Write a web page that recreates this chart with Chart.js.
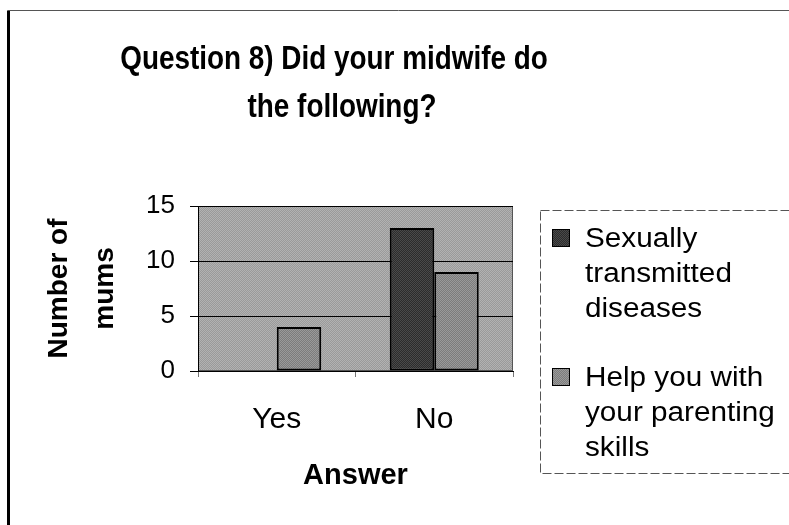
<!DOCTYPE html>
<html>
<head>
<meta charset="utf-8">
<script src="https://cdn.jsdelivr.net/npm/chart.js@4.4.1/dist/chart.umd.min.js"></script>
<style>
  html, body { margin: 0; padding: 0; background: #fff; }
  #wrap { position: relative; width: 789px; height: 525px; overflow: hidden; }
</style>
</head>
<body>
<div id="wrap"><canvas id="chart" width="789" height="525"></canvas></div>
<script>
// chart data
const titleLines = ['Question 8) Did your midwife do', 'the following?'];
const categories = ['Yes', 'No'];
const stdLabel = ['Sexually', 'transmitted', 'diseases'];
const parentingLabel = ['Help you with', 'your parenting', 'skills'];
const stdValues = [0, 13];
const parentingValues = [4, 9];
const yMin = 0, yMax = 15, yStep = 5;
const xTitle = 'Answer';
const yTitle = ['Number of', 'mums'];

// small halftone-like fill, like the scanned excel chart
function makePattern(a, b) {
  const c = document.createElement('canvas');
  c.width = 2; c.height = 2;
  const g = c.getContext('2d');
  g.fillStyle = a; g.fillRect(0, 0, 2, 2);
  g.fillStyle = b; g.fillRect(0, 0, 1, 1); g.fillRect(1, 1, 1, 1);
  return g.createPattern(c, 'repeat');
}
const bgFill = makePattern('#9a9a9a', '#b2b2b2');
const darkFill = makePattern('#2c2c2c', '#4a4a4a');
const lightFill = makePattern('#7c7c7c', '#9a9a9a');

// text squeezed or stretched sideways (the scan is not 1:1)
function drawText(ctx, text, x, y, sx) {
  ctx.save();
  ctx.translate(x, y);
  ctx.scale(sx, 1);
  ctx.fillText(text, 0, 0);
  ctx.restore();
}

// frame, plot background, title and legend drawn around the chart
const decor = {
  id: 'decor',
  beforeDraw(chart) {
    const ctx = chart.ctx;
    const a = chart.chartArea;
    ctx.save();
    ctx.fillStyle = '#fff';
    ctx.fillRect(0, 0, chart.width, chart.height);
    // outer frame
    ctx.strokeStyle = '#000';
    ctx.lineWidth = 3;
    ctx.beginPath();
    ctx.moveTo(8.5, 525); ctx.lineTo(8.5, 10.5);
    ctx.stroke();
    ctx.strokeStyle = '#555';
    ctx.lineWidth = 1;
    ctx.beginPath();
    ctx.moveTo(8, 10.5); ctx.lineTo(789, 10.5);
    ctx.stroke();
    // plot area
    ctx.fillStyle = bgFill;
    ctx.fillRect(a.left, a.top, a.right - a.left, a.bottom - a.top);
    ctx.strokeStyle = '#555';
    ctx.strokeRect(a.left + 0.5, a.top + 0.5, a.right - a.left - 1, a.bottom - a.top - 1);
    ctx.restore();
  },
  afterDraw(chart) {
    const ctx = chart.ctx;
    ctx.save();
    // title
    ctx.fillStyle = '#000';
    ctx.textAlign = 'center';
    ctx.textBaseline = 'alphabetic';
    ctx.font = 'bold 34px Arial, "Liberation Sans", sans-serif';
    drawText(ctx, titleLines[0], 334, 69, 0.82);
    drawText(ctx, titleLines[1], 342, 117, 0.82);
    // legend box
    ctx.strokeStyle = '#555';
    ctx.lineWidth = 1;
    ctx.setLineDash([9, 3]);
    ctx.strokeRect(540.5, 210.5, 270, 263);
    ctx.setLineDash([]);
    const entries = [
      { fill: darkFill, lines: stdLabel, top: 229 },
      { fill: lightFill, lines: parentingLabel, top: 368 }
    ];
    ctx.textAlign = 'left';
    ctx.font = '27px Arial, "Liberation Sans", sans-serif';
    entries.forEach(e => {
      ctx.fillStyle = e.fill;
      ctx.fillRect(552, e.top, 18, 18);
      ctx.strokeStyle = '#000';
      ctx.strokeRect(552.5, e.top + 0.5, 17, 17);
      ctx.fillStyle = '#000';
      e.lines.forEach((t, i) => drawText(ctx, t, 585, e.top + 18 + i * 35, 1.1));
    });
    ctx.restore();
  }
};

const ctx = document.getElementById('chart').getContext('2d');
new Chart(ctx, {
  type: 'bar',
  data: {
    labels: categories,
    datasets: [
      {
        label: stdLabel.join(' '),
        data: stdValues,
        backgroundColor: darkFill,
        borderColor: '#000',
        borderWidth: 2,
        borderSkipped: false,
        categoryPercentage: 0.565,
        barPercentage: 1
      },
      {
        label: parentingLabel.join(' '),
        data: parentingValues,
        backgroundColor: lightFill,
        borderColor: '#000',
        borderWidth: 2,
        borderSkipped: false,
        categoryPercentage: 0.565,
        barPercentage: 1
      }
    ]
  },
  options: {
    responsive: false,
    animation: false,
    devicePixelRatio: 1,
    layout: { padding: { top: 206, right: 276, bottom: 0, left: 0 } },
    plugins: {
      legend: { display: false },
      title: { display: false },
      tooltip: { enabled: false }
    },
    scales: {
      x: {
        grid: { display: true, drawOnChartArea: false, offset: true, tickLength: 6, color: '#777' },
        border: { display: true, color: '#000', width: 1 },
        ticks: {
          color: '#000',
          padding: 25,
          font: { family: 'Arial, "Liberation Sans", sans-serif', size: 30 }
        },
        title: {
          display: true,
          text: xTitle,
          color: '#000',
          padding: { top: 0, bottom: 32 },
          font: { family: 'Arial, "Liberation Sans", sans-serif', size: 29, weight: 'bold' }
        },
        afterFit(s) { s.height = 154; }
      },
      y: {
        min: yMin,
        max: yMax,
        grid: { color: '#000', lineWidth: 1, tickLength: 8, drawTicks: true },
        border: { display: true, color: '#000', width: 1 },
        ticks: {
          stepSize: yStep,
          color: '#000',
          padding: 15,
          font: { family: 'Arial, "Liberation Sans", sans-serif', size: 26 }
        },
        title: {
          display: true,
          text: yTitle,
          color: '#000',
          padding: { top: 36, bottom: 0 },
          font: { family: 'Arial, "Liberation Sans", sans-serif', size: 28, weight: 'bold', lineHeight: 1.64 }
        },
        afterFit(s) { s.width = 198; }
      }
    }
  },
  plugins: [decor]
});
</script>
</body>
</html>
